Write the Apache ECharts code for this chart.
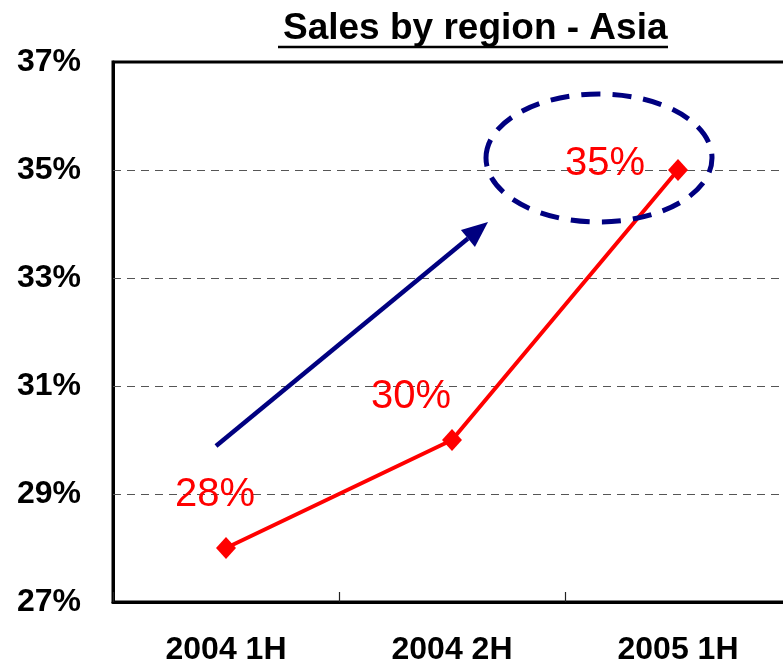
<!DOCTYPE html>
<html>
<head>
<meta charset="utf-8">
<script src="https://cdn.jsdelivr.net/npm/echarts@6/dist/echarts.min.js"></script>
<style>
  html, body { margin: 0; padding: 0; background: #fff; }
  #chart { width: 783px; height: 669px; }
</style>
</head>
<body>
<div id="chart"></div>
<script>
const periods = ['2004 1H', '2004 2H', '2005 1H']
const asiaShare = [28, 30, 35]
const yTicks = [27, 29, 31, 33, 35, 37]

const font = "'Liberation Sans', Arial, sans-serif"
// where each value label sits relative to its point
const labelOffsets = [[-11, -53], [-41, -43], [-73, -6]]

const chart = echarts.init(document.getElementById('chart'))

// arrow head for the blue trend arrow
const arrowFrom = [216, 446]
const arrowTo = [488, 222]
const ang = Math.atan2(arrowTo[1] - arrowFrom[1], arrowTo[0] - arrowFrom[0])
const headLen = 26, headHalf = 11
const base = [arrowTo[0] - headLen * Math.cos(ang), arrowTo[1] - headLen * Math.sin(ang)]
const head = [
  arrowTo,
  [base[0] + headHalf * Math.sin(ang), base[1] - headHalf * Math.cos(ang)],
  [base[0] - headHalf * Math.sin(ang), base[1] + headHalf * Math.cos(ang)]
]

const option = {
  animation: false,
  title: {
    text: 'Sales by region - Asia',
    left: 278,
    top: 5,
    textStyle: {
      fontFamily: font,
      fontSize: 37,
      fontWeight: 'bold',
      color: '#000'
    }
  },
  grid: {
    left: 113,
    width: 678,
    top: 62,
    bottom: 67,
    outerBoundsMode: 'none',
    containLabel: false,
    show: true,
    borderColor: '#000',
    borderWidth: 3,
    backgroundColor: 'transparent'
  },
  xAxis: {
    type: 'category',
    data: periods,
    axisLine: { lineStyle: { color: '#000', width: 3 } },
    axisTick: { show: true, inside: true, length: 10, lineStyle: { color: '#222', width: 1.2 } },
    axisLabel: {
      margin: 32,
      fontFamily: font,
      fontSize: 32,
      fontWeight: 'bold',
      color: '#000'
    },
    splitLine: { show: false }
  },
  yAxis: {
    type: 'value',
    min: 27,
    max: 37,
    axisLine: { show: true, lineStyle: { color: '#000', width: 3 } },
    axisTick: { show: false },
    splitLine: { show: false },
    axisLabel: {
      customValues: yTicks,
      margin: 32,
      fontFamily: font,
      fontSize: 32,
      fontWeight: 'bold',
      color: '#000',
      formatter: v => v + '%'
    }
  },
  series: [{
    type: 'line',
    data: asiaShare.map((v, i) => ({
      value: v,
      label: { offset: labelOffsets[i] }
    })),
    symbol: 'diamond',
    symbolSize: [20, 22],
    itemStyle: { color: '#ff0000' },
    lineStyle: { color: '#ff0000', width: 4 },
    label: {
      show: true,
      position: 'inside',
      formatter: p => p.value + '%',
      fontFamily: font,
      fontSize: 40,
      color: '#ff0000'
    },
    markLine: {
      silent: true,
      symbol: 'none',
      label: { show: false },
      lineStyle: { color: '#555', width: 1, type: [8, 6] },
      data: yTicks.slice(1, -1).map(v => ({ yAxis: v }))
    },
    z: 5
  }],
  graphic: [
    {
      type: 'line',
      shape: { x1: 278, y1: 47, x2: 668, y2: 47 },
      style: { stroke: '#000', lineWidth: 2.5 }
    },
    {
      type: 'line',
      shape: { x1: arrowFrom[0], y1: arrowFrom[1], x2: base[0], y2: base[1] },
      style: { stroke: '#000080', lineWidth: 4.5 },
      z: 10
    },
    {
      type: 'polygon',
      shape: { points: head },
      style: { fill: '#000080' },
      z: 10
    },
    {
      type: 'ellipse',
      shape: { cx: 599, cy: 158, rx: 113, ry: 64 },
      style: { fill: null, stroke: '#000080', lineWidth: 5, lineDash: [19, 12] },
      z: 10
    }
  ]
}

chart.setOption(option)

window.addEventListener('resize', () => {
  chart.resize()
})
</script>
</body>
</html>
